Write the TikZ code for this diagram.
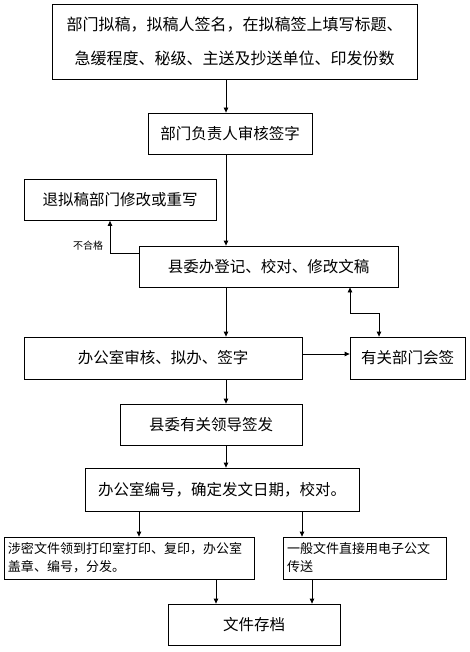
\documentclass[tikz,border=0pt]{standalone}
\usepackage{fontspec}
\setmainfont{Noto Sans CJK SC}
\usetikzlibrary{arrows.meta}
\begin{document}
\begin{tikzpicture}[x=1pt,y=-1pt,
    box/.style={draw,line width=0.8pt,inner sep=0pt,font=\fontsize{15.5}{18}\selectfont},
    smallbox/.style={box,align=left,inner xsep=4pt,font=\fontsize{13}{18}\selectfont},
    >={Triangle[length=5pt,width=4.5pt]}]
  \useasboundingbox (0,0) rectangle (470,652);
  \draw
    (234.5,41.5) node[box,align=center,minimum width=365pt,minimum height=75pt,font=\fontsize{16}{34}\selectfont] (draft)
      {部门拟稿，拟稿人签名，在拟稿签上填写标题、\\急缓程度、秘级、主送及抄送单位、印发份数}
    (230,133.5) node[box,minimum width=164pt,minimum height=41pt] (head){部门负责人审核签字}
    (120,200) node[box,minimum width=192pt,minimum height=41pt] (back){退拟稿部门修改或重写}
    (268.5,266.5) node[box,minimum width=259pt,minimum height=41pt] (register){县委办登记、校对、修改文稿}
    (163,358) node[box,minimum width=278pt,minimum height=42pt] (review){办公室审核、拟办、签字}
    (407.5,358) node[box,minimum width=115pt,minimum height=42pt] (cosign){有关部门会签}
    (211,424.5) node[box,minimum width=182pt,minimum height=41pt] (leader){县委有关领导签发}
    (222,489.5) node[box,minimum width=274pt,minimum height=43pt] (number){办公室编号，确定发文日期，校对。}
    (129,558) node[smallbox,minimum height=42pt,text width=242pt] (secret)
      {涉密文件领到打印室打印、复印，办公室\\盖章、编号，分发。}
    (364.5,558) node[smallbox,minimum height=42pt,text width=155pt] (general)
      {一般文件直接用电子公文\\传送}
    (254,624.5) node[box,minimum width=172pt,minimum height=41pt] (archive){文件存档}
    (88,246) node[font=\fontsize{10}{11}\selectfont] (fail){不合格};
  \coordinate (spine) at (226,0);
  \coordinate (ret) at (110,0);
  \coordinate (sign1) at (350,313);
  \coordinate (sign2) at (379,313);
  \begin{scope}[->,line width=0.8pt]
    \draw (draft.south -| spine) to (head.north -| spine);
    \draw (head.south -| spine) to (register.north -| spine);
    \draw ([yshift=13.5pt]register.west) -| (back.south -| ret);
    \draw (register.south -| spine) to (review.north -| spine);
    \draw[<->] (register.south -| sign1) -- (sign1) -- (sign2) -- (cosign.north -| sign2);
    \draw ([yshift=4pt]review.east) to ([yshift=4pt]cosign.west);
    \draw (review.south -| spine) to (leader.north -| spine);
    \draw (leader.south -| spine) to (number.north -| spine);
    \draw (number.south -| 139,0) to (secret.north -| 139,0);
    \draw (number.south -| 302,0) to (general.north -| 302,0);
    \draw (secret.south -| 216,0) to (archive.north -| 216,0);
    \draw (general.south -| 312,0) to (archive.north -| 312,0);
  \end{scope}
\end{tikzpicture}
\end{document}
